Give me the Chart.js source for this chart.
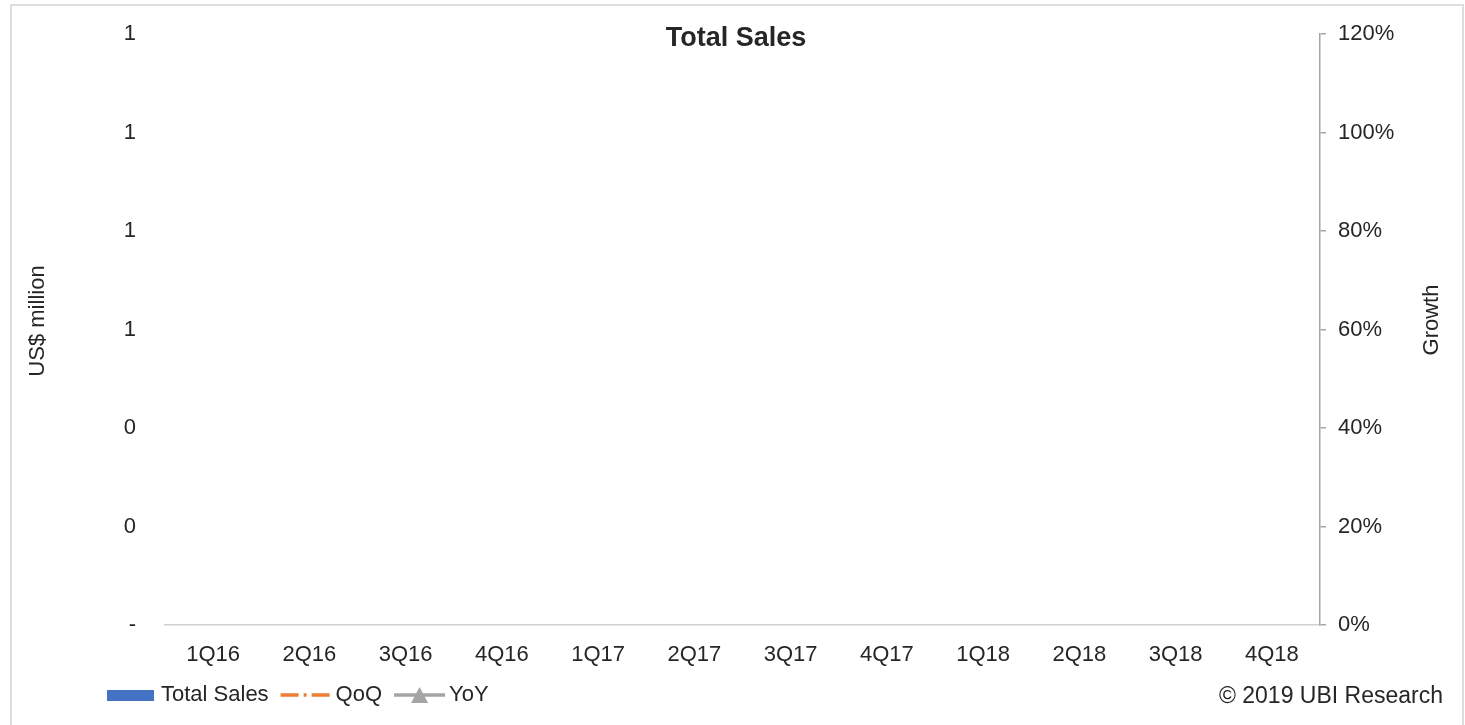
<!DOCTYPE html>
<html>
<head>
<meta charset="utf-8">
<title>Total Sales</title>
<script src="https://cdn.jsdelivr.net/npm/chart.js@4.4.1/dist/chart.umd.min.js"></script>
<style>
  html, body { margin: 0; padding: 0; background: #fff; overflow: hidden; }
  #wrap { position: relative; width: 1465px; height: 725px; }
  #frame { position: absolute; left: 10px; top: 4px; width: 1450px; height: 760px; border: 2px solid #dedede; pointer-events: none; }
  canvas { display: block; }
</style>
</head>
<body>
<div id="wrap">
  <canvas id="chartDestination" width="1465" height="725"></canvas>
  <div id="frame"></div>
</div>
<script>
// quarters on the x axis
const quarters = ["1Q16", "2Q16", "3Q16", "4Q16", "1Q17", "2Q17", "3Q17", "4Q17", "1Q18", "2Q18", "3Q18", "4Q18"];
// the source chart shows no values at all
const totalSales = [null, null, null, null, null, null, null, null, null, null, null, null];
const qoqGrowth = [null, null, null, null, null, null, null, null, null, null, null, null];
const yoyGrowth = [null, null, null, null, null, null, null, null, null, null, null, null];
// tick labels as printed (excel number format rounds 0.2 steps)
const salesTickLabels = ["-", "0", "0", "1", "1", "1", "1"];
const growthTickLabels = ["0%", "20%", "40%", "60%", "80%", "100%", "120%"];

const FONT = '"Liberation Sans", Arial, sans-serif';
const TEXT = "#262626";

// title, axis titles, legend and footer drawn the way Excel placed them
const excelTexts = {
  id: "excelTexts",
  afterDraw(chart) {
    const ctx = chart.ctx;
    ctx.save();
    ctx.fillStyle = TEXT;
    ctx.textBaseline = "middle";

    ctx.font = "bold 27px " + FONT;
    ctx.textAlign = "center";
    ctx.fillText("Total Sales", 736, 39);

    ctx.font = "22px " + FONT;
    [["US$ million", 38, 321], ["Growth", 1432, 320]].forEach(([t, x, y]) => {
      ctx.save();
      ctx.translate(x, y);
      ctx.rotate(-Math.PI / 2);
      ctx.fillText(t, 0, 0);
      ctx.restore();
    });

    // legend
    const y = 695;
    let x = 107;
    ctx.textAlign = "left";
    chart.data.datasets.forEach((ds) => {
      if (ds.type === "bar") {
        ctx.fillStyle = ds.backgroundColor;
        ctx.fillRect(x, y - 5, 47, 11);
        x += 54;
      } else {
        ctx.strokeStyle = ds.borderColor;
        ctx.lineWidth = 3.5;
        ctx.setLineDash(ds.legendDash || []);
        ctx.beginPath();
        ctx.moveTo(x, y);
        ctx.lineTo(x + 51, y);
        ctx.stroke();
        ctx.setLineDash([]);
        if (ds.pointStyle === "triangle") {
          ctx.fillStyle = ds.borderColor;
          ctx.beginPath();
          ctx.moveTo(x + 25.5, y - 8);
          ctx.lineTo(x + 34, y + 8);
          ctx.lineTo(x + 17, y + 8);
          ctx.closePath();
          ctx.fill();
        }
        x += 55;
      }
      ctx.fillStyle = TEXT;
      ctx.fillText(ds.label, x, y);
      x += ctx.measureText(ds.label).width + 12;
    });

    ctx.font = "23px " + FONT;
    ctx.textAlign = "right";
    ctx.fillText("\u00A9 2019 UBI Research", 1443, 697);
    ctx.restore();
  },
};

const ctx = document.getElementById("chartDestination");
const config = {
  type: "bar",
  data: {
    labels: quarters,
    datasets: [
      {
        type: "bar",
        label: "Total Sales",
        data: totalSales,
        backgroundColor: "#4472C4",
        yAxisID: "y",
        order: 3,
      },
      {
        type: "line",
        label: "QoQ",
        data: qoqGrowth,
        borderColor: "#ED7D31",
        backgroundColor: "#ED7D31",
        borderWidth: 3,
        borderDash: [10, 4, 2, 4],
        legendDash: [18, 5, 3, 5],
        pointStyle: "circle",
        pointRadius: 3,
        yAxisID: "y1",
        order: 1,
      },
      {
        type: "line",
        label: "YoY",
        data: yoyGrowth,
        borderColor: "#A5A5A5",
        backgroundColor: "#A5A5A5",
        borderWidth: 3,
        pointStyle: "triangle",
        pointRadius: 7,
        yAxisID: "y1",
        order: 2,
      },
    ],
  },
  options: {
    responsive: false,
    animation: false,
    devicePixelRatio: 1,
    layout: { padding: { left: 0, right: 0, top: 34, bottom: 50 } },
    plugins: {
      legend: { display: false },
      title: { display: false },
      tooltip: { enabled: false },
    },
    scales: {
      x: {
        grid: { display: false, drawTicks: false },
        border: { display: true, color: "#d0d0d0", width: 1.5 },
        ticks: {
          color: TEXT,
          font: { family: FONT, size: 22 },
          padding: 17,
          maxRotation: 0,
          autoSkip: false,
        },
        afterFit(scale) {
          scale.height = 50;
        },
      },
      y: {
        position: "left",
        min: 0,
        max: 1.2,
        // hidden tick marks, their length only pushes the labels left
        grid: { display: false, drawTicks: true, tickLength: 29 },
        border: { display: false },
        ticks: {
          stepSize: 0.2,
          color: TEXT,
          font: { family: FONT, size: 22 },
          padding: 0,
          callback: (value, index) => salesTickLabels[index],
        },
        afterFit(scale) {
          scale.width = 165;
        },
      },
      y1: {
        position: "right",
        min: 0,
        max: 1.2,
        grid: {
          drawOnChartArea: false,
          drawTicks: true,
          tickLength: 6,
          color: "#a6a6a6",
          lineWidth: 1.5,
        },
        border: { display: true, color: "#a6a6a6", width: 1.5 },
        ticks: {
          stepSize: 0.2,
          color: TEXT,
          font: { family: FONT, size: 22 },
          padding: 12,
          callback: (value, index) => growthTickLabels[index],
        },
        afterFit(scale) {
          scale.width = 145;
        },
      },
    },
  },
  plugins: [excelTexts],
};
const chart = new Chart(ctx, config);
</script>
</body>
</html>
